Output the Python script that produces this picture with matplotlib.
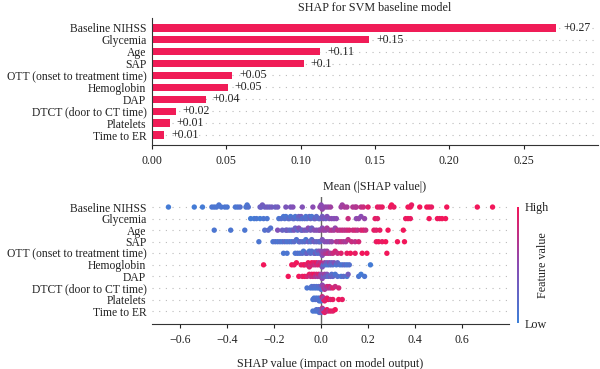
import numpy as np
import matplotlib
matplotlib.use("Agg")
import matplotlib.pyplot as plt
from matplotlib.colors import LinearSegmentedColormap
from matplotlib.cm import ScalarMappable

plt.rcParams['font.family'] = ['Liberation Serif', 'DejaVu Serif']
plt.rcParams['font.size'] = 8.5

features = ["Baseline NIHSS", "Glycemia", "Age", "SAP", "OTT (onset to treatment time)",
            "Hemoglobin", "DAP", "DTCT (door to CT time)", "Platelets", "Time to ER"]
mean_abs_shap = [0.272, 0.146, 0.113, 0.102, 0.054, 0.051, 0.036, 0.016, 0.012, 0.0083]

# (shap value, feature value 0=low .. 1=high) per feature
swarm_baseline = [
    (-0.65, .05), (-0.54, .05), (-0.505, .05), (-0.465, .1), (-0.455, .1), (-0.445, .1), (-0.435, .1),
    (-0.425, .1), (-0.41, .1), (-0.40, .1), (-0.365, .1), (-0.355, .1), (-0.345, .15), (-0.32, .1),
    (-0.315, .1), (-0.31, .15), (-0.26, .3), (-0.255, .3), (-0.25, .35), (-0.24, .3), (-0.23, .35),
    (-0.22, .3), (-0.21, .35), (-0.195, .3), (-0.185, .35), (-0.15, .4), (-0.13, .4), (-0.12, .45),
    (-0.08, .45), (-0.035, .5), (-0.005, .55), (0.0, .5), (0.005, .55), (0.01, .5), (0.02, .55),
    (0.03, .55), (0.04, .6), (0.085, .6), (0.09, .6), (0.10, .65), (0.11, .65), (0.135, .7),
    (0.145, .65), (0.15, .7), (0.17, .75), (0.18, .8), (0.20, .9), (0.24, .95), (0.25, .9),
    (0.26, .95), (0.295, .95), (0.30, 1.0), (0.31, .95), (0.37, 1.0), (0.38, 1.0), (0.385, .95),
    (0.42, 1.0), (0.45, 1.0), (0.46, 1.0), (0.47, .95), (0.535, 1.0), (0.665, 1.0), (0.73, 1.0)]
swarm_glycemia = [
    (-0.30, .05), (-0.285, .05), (-0.275, .1), (-0.26, .05), (-0.245, .1), (-0.23, .1),
    (-0.18, .1), (-0.17, .15), (-0.16, .1), (-0.155, .15), (-0.15, .1), (-0.14, .15), (-0.135, .2),
    (-0.13, .1), (-0.12, .15), (-0.115, .2), (-0.11, .1), (-0.10, .15), (-0.095, .3), (-0.09, .2),
    (-0.085, .35), (-0.08, .15), (-0.07, .2), (-0.065, .1), (-0.06, .15), (-0.05, .2), (-0.045, .25),
    (-0.04, .1), (-0.03, .15), (-0.025, .3), (-0.02, .2), (-0.01, .15), (-0.005, .25),
    (0.005, .35), (0.01, .4), (0.02, .3), (0.025, .45), (0.035, .4), (0.045, .5), (0.055, .45),
    (0.065, .5), (0.115, .8), (0.15, .5), (0.16, .55), (0.17, .5), (0.185, .55), (0.23, .95),
    (0.24, .9), (0.36, .95), (0.37, 1.0), (0.38, .95), (0.46, 1.0), (0.495, 1.0), (0.505, .95),
    (0.515, 1.0), (0.53, 1.0)]
swarm_age = [
    (-0.455, .1), (-0.385, .1), (-0.325, .1), (-0.24, .15), (-0.225, .2), (-0.215, .15), (-0.185, .45),
    (-0.165, .3), (-0.15, .2), (-0.145, .35), (-0.135, .25), (-0.125, .2), (-0.115, .4), (-0.11, .3),
    (-0.10, .2), (-0.095, .45), (-0.085, .35), (-0.08, .25), (-0.07, .4), (-0.06, .3), (-0.055, .5),
    (-0.045, .4), (-0.04, .3), (-0.03, .45), (-0.02, .5), (-0.01, .4), (-0.005, .55),
    (0.005, .5), (0.01, .6), (0.02, .55), (0.025, .65), (0.035, .6), (0.045, .7), (0.055, .65),
    (0.06, .55), (0.07, .75), (0.08, .7), (0.09, .8), (0.10, .75), (0.11, .8), (0.12, .85),
    (0.135, .8), (0.145, .85), (0.155, .75), (0.17, .85), (0.18, .9), (0.19, .8), (0.225, .95),
    (0.235, .9), (0.25, .95), (0.285, 1.0), (0.35, 1.0)]
swarm_sap = [
    (-0.265, .1), (-0.205, .1), (-0.195, .15), (-0.185, .1), (-0.175, .15), (-0.165, .1), (-0.155, .2),
    (-0.145, .1), (-0.135, .15), (-0.125, .1), (-0.115, .2), (-0.105, .15), (-0.095, .1), (-0.09, .25),
    (-0.08, .15), (-0.07, .2), (-0.065, .1), (-0.055, .3), (-0.045, .15), (-0.04, .2), (-0.03, .35),
    (-0.02, .25), (-0.01, .3), (-0.005, .2), (0.005, .4), (0.015, .45), (0.025, .5), (0.035, .45),
    (0.045, .55), (0.065, .7), (0.075, .65), (0.085, .75), (0.095, .7), (0.105, .65), (0.115, .75),
    (0.13, .8), (0.145, .75), (0.16, .85), (0.235, .95), (0.245, 1.0), (0.26, .95), (0.275, 1.0),
    (0.325, 1.0), (0.355, 1.0)]
swarm_ott = [
    (-0.16, .1), (-0.145, .1), (-0.11, .1), (-0.10, .15), (-0.09, .1), (-0.08, .2), (-0.075, .1),
    (-0.065, .15), (-0.06, .3), (-0.05, .1), (-0.045, .2), (-0.04, .15), (-0.03, .1), (-0.025, .35),
    (-0.02, .2), (-0.015, .15), (-0.01, .4), (-0.005, .2), (0.0, .5), (0.005, .45), (0.01, .6),
    (0.015, .55), (0.02, .7), (0.025, .6), (0.03, .75), (0.04, .65), (0.05, .8), (0.06, .85),
    (0.07, .8), (0.085, .9), (0.11, .95), (0.125, 1.0), (0.145, .95), (0.175, 1.0), (0.195, 1.0),
    (0.28, 1.0)]
swarm_hemoglobin = [
    (-0.245, 1.0), (-0.125, 1.0), (-0.115, .95), (-0.105, 1.0), (-0.085, .95), (-0.075, .9),
    (-0.07, 1.0), (-0.06, .85), (-0.055, .95), (-0.05, .9), (-0.045, .8), (-0.04, 1.0), (-0.035, .85),
    (-0.03, .9), (-0.025, .75), (-0.02, .95), (-0.015, .85), (-0.01, .7), (-0.005, .9), (0.0, .8),
    (0.005, .4), (0.01, .2), (0.015, .6), (0.02, .15), (0.025, .35), (0.03, .1), (0.035, .5),
    (0.04, .2), (0.045, .3), (0.05, .15), (0.055, .45), (0.065, .1), (0.07, .25), (0.08, .15),
    (0.09, .1), (0.10, .2), (0.11, .1), (0.12, .15), (0.21, .05)]
swarm_dap = [
    (-0.14, 1.0), (-0.095, 1.0), (-0.08, .9), (-0.07, 1.0), (-0.06, .85), (-0.05, .95), (-0.045, .75),
    (-0.04, .9), (-0.035, .8), (-0.03, 1.0), (-0.025, .7), (-0.02, .85), (-0.015, .6), (-0.01, .9),
    (-0.005, .65), (0.0, .55), (0.005, .5), (0.01, .35), (0.015, .6), (0.02, .3), (0.025, .45),
    (0.03, .2), (0.04, .35), (0.045, .15), (0.05, .25), (0.06, .1), (0.07, .15), (0.085, .1),
    (0.095, .2), (0.11, .1), (0.115, .35), (0.16, .1), (0.17, .05), (0.185, .1)]
swarm_dtct = [
    (-0.06, .1), (-0.045, .1), (-0.04, .15), (-0.035, .1), (-0.03, .2), (-0.025, .1), (-0.02, .15),
    (-0.015, .1), (-0.01, .2), (-0.005, .1), (0.0, .3), (0.0, .15), (0.005, .5), (0.01, .4),
    (0.01, .6), (0.015, .7), (0.02, .55), (0.025, .8), (0.03, .65), (0.035, .85), (0.04, .7),
    (0.05, .9), (0.06, .8), (0.075, .85)]
swarm_platelets = [
    (-0.035, .1), (-0.03, .1), (-0.025, .15), (-0.02, .1), (-0.015, .2), (-0.01, .1), (-0.008, .15),
    (-0.005, .1), (0.0, .2), (0.0, .1), (0.005, .8), (0.01, .9), (0.01, .6), (0.015, .95),
    (0.02, .85), (0.025, .9), (0.03, 1.0), (0.04, .85), (0.05, .95), (0.075, 1.0), (0.09, .95)]
swarm_time_er = [
    (-0.035, .1), (-0.025, .1), (-0.02, .15), (-0.015, .1), (-0.01, .2), (-0.008, .1), (-0.005, .15),
    (0.0, .1), (0.0, .3), (0.005, .7), (0.01, .9), (0.01, .5), (0.015, .95), (0.02, .85),
    (0.025, 1.0), (0.03, .8), (0.04, .95), (0.05, .9), (0.06, 1.0)]

swarms = [swarm_baseline, swarm_glycemia, swarm_age, swarm_sap, swarm_ott,
          swarm_hemoglobin, swarm_dap, swarm_dtct, swarm_platelets, swarm_time_er]

bar_color = '#f01c57'
text_color = '#222222'
cmap = LinearSegmentedColormap.from_list('shap', ['#3d80d8', '#8a4cb3', '#f2165a'])


def swarm_offsets(vals, bin_w=0.011, row_height=0.4):
    # shap-style beeswarm stacking
    vals = np.asarray(vals)
    quant = np.round(vals / bin_w)
    order = np.lexsort((vals, quant))
    ys = np.zeros(len(vals))
    layer = 0
    last = None
    for i in order:
        if quant[i] != last:
            layer = 0
        ys[i] = np.ceil(layer / 2) * ((layer % 2) * 2 - 1)
        layer += 1
        last = quant[i]
    ys *= 0.9 * (row_height / np.max(ys + 1))
    return ys


def format_value(v):
    s = "%+.2f" % v
    s = s.rstrip('0').rstrip('.')
    return s


fig = plt.figure(figsize=(6.0, 3.69), dpi=100)
n = len(features)
ypos = np.arange(n)[::-1]

# ---- top: mean |SHAP| bars
ax1 = fig.add_axes([152 / 600, 1 - 145 / 369, 446 / 600, 127 / 369])
for y in ypos:
    ax1.axhline(y, color='#bbbbbb', lw=0.8, dashes=(1, 5), zorder=-1)
ax1.barh(ypos, mean_abs_shap, height=0.62, color=bar_color, zorder=2)
for y, v in zip(ypos, mean_abs_shap):
    ax1.annotate(format_value(v), (v, y), xytext=(5, 0), textcoords='offset points',
                 va='center', ha='left', color=text_color, fontsize=8.5)
ax1.set_xlim(0, 0.30)
ax1.set_ylim(-0.84, 9.83)
ax1.set_yticks(ypos)
ax1.set_yticklabels(features)
ax1.set_xticks([0.0, 0.05, 0.10, 0.15, 0.20, 0.25])
ax1.set_xticklabels(['0.00', '0.05', '0.10', '0.15', '0.20', '0.25'])
ax1.tick_params(axis='y', length=0, pad=4, colors=text_color, labelsize=8.4)
ax1.tick_params(axis='x', length=3, pad=4, colors=text_color, labelsize=8.6)
ax1.spines['top'].set_visible(False)
ax1.spines['right'].set_visible(False)
ax1.spines['left'].set_color('#333333')
ax1.spines['bottom'].set_color('#333333')
ax1.set_title('SHAP for SVM baseline model', fontsize=8.7, color=text_color, pad=5)
ax1.set_xlabel('Mean (|SHAP value|)', fontsize=8.7, color=text_color, labelpad=10)

# ---- bottom: beeswarm
ax2 = fig.add_axes([152 / 600, 1 - 324 / 369, 357 / 600, 127 / 369])
ax2.axvline(0, color='#666666', lw=1.0, zorder=1)
for y, pts in zip(ypos, swarms):
    ax2.axhline(y, color='#bbbbbb', lw=0.8, dashes=(1, 5), zorder=-1)
    sv = np.array([p[0] for p in pts])
    fv = np.array([p[1] for p in pts])
    offs = swarm_offsets(sv)
    ax2.scatter(sv, y + offs, c=fv, cmap=cmap, vmin=0, vmax=1, s=15, linewidths=0, zorder=3)
ax2.set_xlim(-0.72, 0.80)
ax2.set_ylim(-1.12, 9.87)
ax2.set_yticks(ypos)
ax2.set_yticklabels(features)
ax2.set_xticks([-0.6, -0.4, -0.2, 0.0, 0.2, 0.4, 0.6])
ax2.set_xticklabels(['\u22120.6', '\u22120.4', '\u22120.2', '0.0', '0.2', '0.4', '0.6'])
ax2.tick_params(axis='y', length=0, pad=4, colors=text_color, labelsize=8.4)
ax2.tick_params(axis='x', length=3, pad=4, colors=text_color, labelsize=8.6)
for s in ['top', 'right', 'left']:
    ax2.spines[s].set_visible(False)
ax2.spines['bottom'].set_color('#333333')
ax2.set_xlabel('SHAP value (impact on model output)', fontsize=8.7, color=text_color, labelpad=9)

# colour bar
cax = fig.add_axes([517 / 600, 1 - 323 / 369, 2.2 / 600, 116 / 369])
sm = ScalarMappable(cmap=cmap)
sm.set_array([0, 1])
cb = fig.colorbar(sm, cax=cax, ticks=[0, 1])
cb.set_ticklabels(['Low', 'High'])
cb.outline.set_visible(False)
cb.ax.tick_params(length=0, pad=4, labelsize=8.7, colors=text_color)
cb.set_label('Feature value', fontsize=8.7, color=text_color, labelpad=-9)

fig.savefig('out.png', dpi=100)
